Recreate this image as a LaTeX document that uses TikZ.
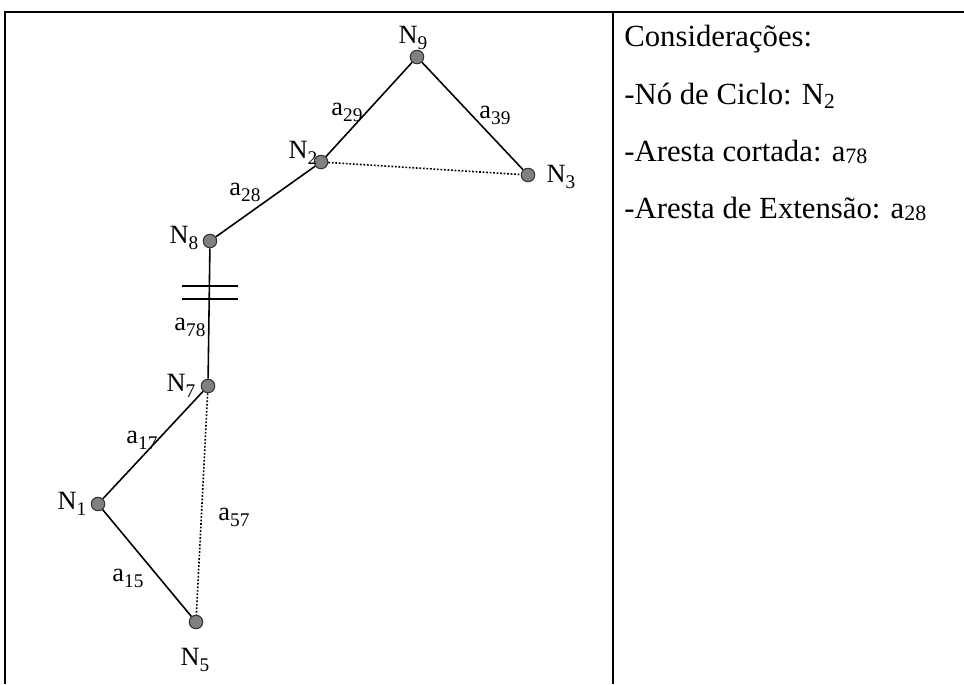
\documentclass[tikz,border=0pt]{standalone}
\usepackage{fontspec}
\setmainfont{Liberation Serif}
\usepackage{tikz}
\usetikzlibrary{positioning}
\newcommand{\lsub}[1]{\raisebox{-0.5ex}{\fontsize{11}{11}\selectfont #1}}

\begin{document}
\begin{tikzpicture}[x=0.02cm,y=-0.02cm,
  gnode/.style={circle,draw=black!80,fill=black!50,line width=0.6pt,minimum size=0.27cm,inner sep=0},
  glab/.style={inner sep=0,font=\fontsize{15}{17}\selectfont},
  nota/.style={anchor=base west,inner sep=0,font=\fontsize{17.5}{20}\selectfont},
  edge/.style={line width=0.9pt},
  cut/.style={line width=0.9pt,dash pattern=on 1pt off 1pt}]
\useasboundingbox (0,0) rectangle (964,684);
% frame
\draw[line width=1.1pt] (5,684) -- (5,12) -- (964,12);
\draw[line width=1.1pt] (613,12) -- (613,684);
% nodes
\foreach \n/\x/\y in {9/417/57, 2/321/162, 3/528/175, 8/210/241, 7/208/386, 1/98/504, 5/196/622}{
  \node[gnode] (N\n) at (\x,\y) {};
}
\node[glab] (lN9) at (413,38) {N\lsub{9}};
\node[glab] (lN2) at (303,153) {N\lsub{2}};
\node[glab] (lN3) at (561,177) {N\lsub{3}};
\node[glab] (lN8) at (184,238) {N\lsub{8}};
\node[glab] (lN7) at (181,386) {N\lsub{7}};
\node[glab] (lN1) at (72,504) {N\lsub{1}};
\node[glab] (lN5) at (195,660) {N\lsub{5}};
% edges
\draw[edge] (N9) -- (N2) -- (N8) -- (N7) -- (N1) -- (N5);
\draw[edge] (N9) -- (N3);
\draw[cut] (N2) -- (N3);
\draw[cut] (N7) -- (N5);
\coordinate (c1) at (182,286); \coordinate (c2) at (238,286);
\coordinate (c3) at (182,299); \coordinate (c4) at (238,299);
\draw[edge] (c1) -- (c2) (c3) -- (c4);
\node[glab] (a29) at (347,112) {a\lsub{29}};
\node[glab] (a39) at (495,115) {a\lsub{39}};
\node[glab] (a28) at (245,192) {a\lsub{28}};
\node[glab] (a78) at (190,327) {a\lsub{78}};
\node[glab] (a17) at (142,440) {a\lsub{17}};
\node[glab] (a57) at (234,517) {a\lsub{57}};
\node[glab] (a15) at (128,578) {a\lsub{15}};
% notes
\node[nota] (t0) at (624,46) {Considerações:};
\node[nota] (t1) at (624,104) {-Nó de Ciclo: N\textsubscript{2}};
\node[nota] (t2) at (624,161) {-Aresta cortada: a\raisebox{-0.2ex}{\fontsize{12.5}{14}\selectfont 78}};
\node[nota] (t3) at (624,218) {-Aresta de Extensão: a\raisebox{-0.2ex}{\fontsize{12.5}{14}\selectfont 28}};
\end{tikzpicture}
\end{document}
